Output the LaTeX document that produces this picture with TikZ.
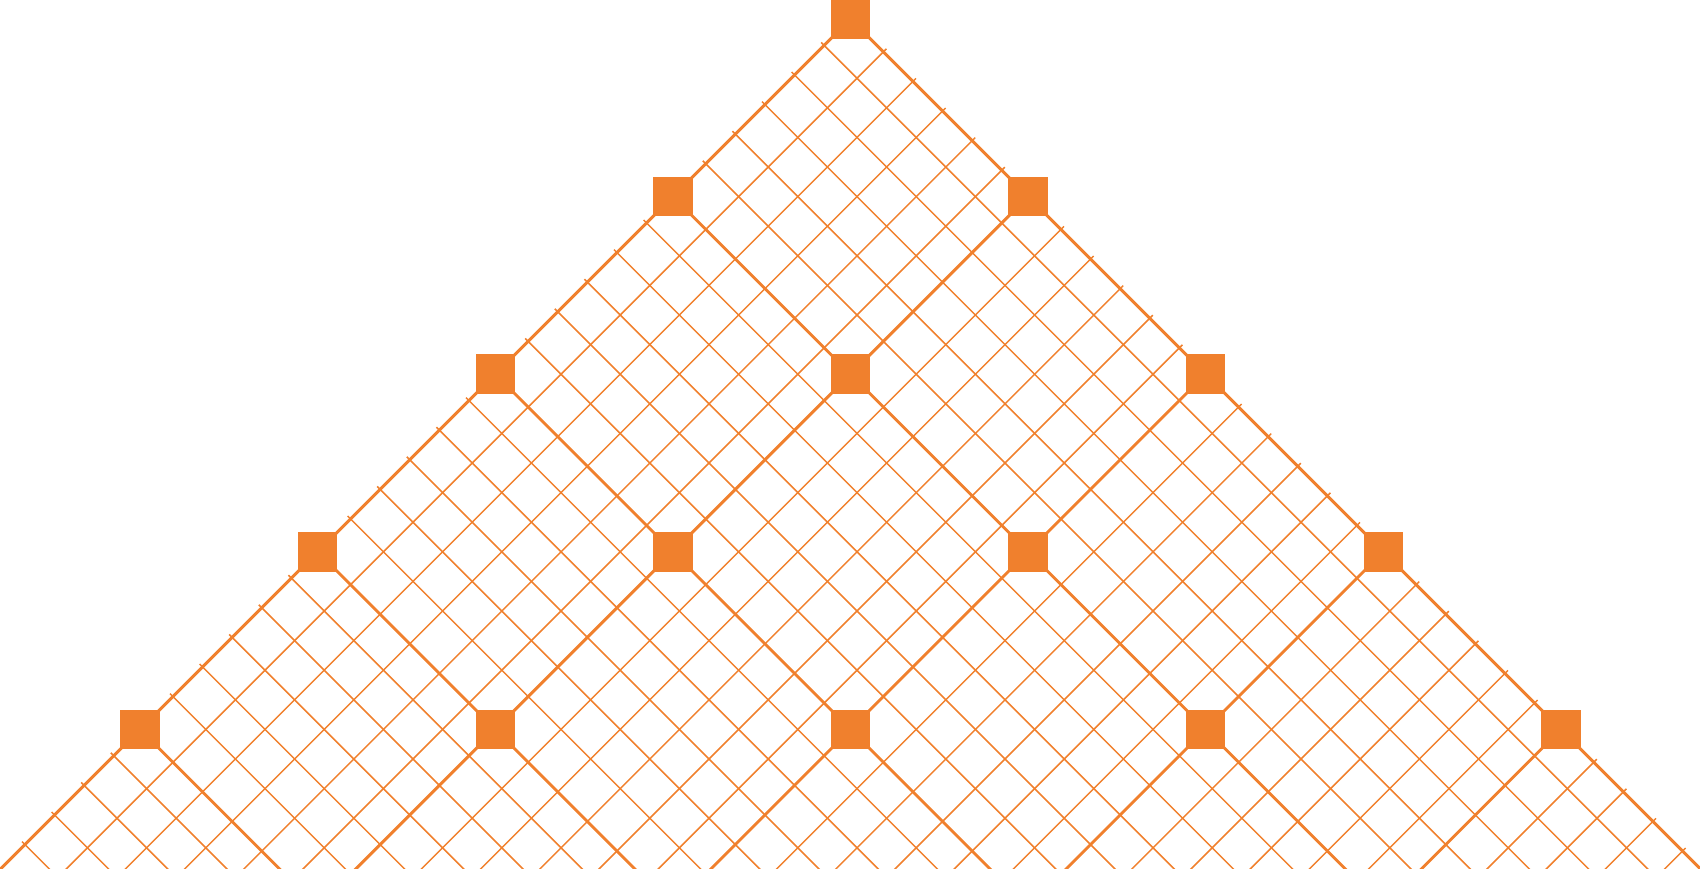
\documentclass[tikz,border=0pt]{standalone}
\definecolor{org}{RGB}{240,128,45}
\begin{document}
\begin{tikzpicture}[x=1pt,y=-1pt,
  gridline/.style={draw=org,line cap=butt},
  sq/.style={fill=org,draw=none,minimum size=39.5pt,inner sep=0pt,outer sep=0pt,rectangle}]
\useasboundingbox (0,0) rectangle (1700,868);
\begin{scope}
\clip (0,0) rectangle (1700,868);
\pgfmathsetmacro{\p}{59.2}
\foreach \k in {0,...,28}{
  \pgfmathsetmacro{\w}{ifthenelse(mod(\k,6)==0,2.9,1.5)}
  \pgfmathsetmacro{\off}{ifthenelse(mod(\k,6)==0,0,6.5)}
  % lines x+y = a (down-left direction)
  \pgfmathsetmacro{\a}{869.5+\k*\p+\off}
  \pgfmathsetmacro{\sx}{(\a+831.5)/2}
  \pgfmathsetmacro{\sy}{(\a-831.5)/2}
  \coordinate (a\k s) at (\sx+3,\sy-3);
  \coordinate (a\k e) at (\sx-1100,\sy+1100);
  \draw[gridline,line width=\w pt] (a\k s) -- (a\k e);
  % lines y-x = b (down-right direction)
  \pgfmathsetmacro{\b}{-831.5+\k*\p-\off}
  \pgfmathsetmacro{\tx}{(869.5-\b)/2}
  \pgfmathsetmacro{\ty}{(869.5+\b)/2}
  \coordinate (b\k s) at (\tx-3,\ty-3);
  \coordinate (b\k e) at (\tx+1100,\ty+1100);
  \draw[gridline,line width=\w pt] (b\k s) -- (b\k e);
}
\foreach \r in {0,...,4}{
  \foreach \i in {0,...,\r}{
    \node[sq] (s\r-\i) at ({850.5+(2*\i-\r)*177.6},{19+\r*177.6}) {};
  }
}
\end{scope}
\end{tikzpicture}
\end{document}
